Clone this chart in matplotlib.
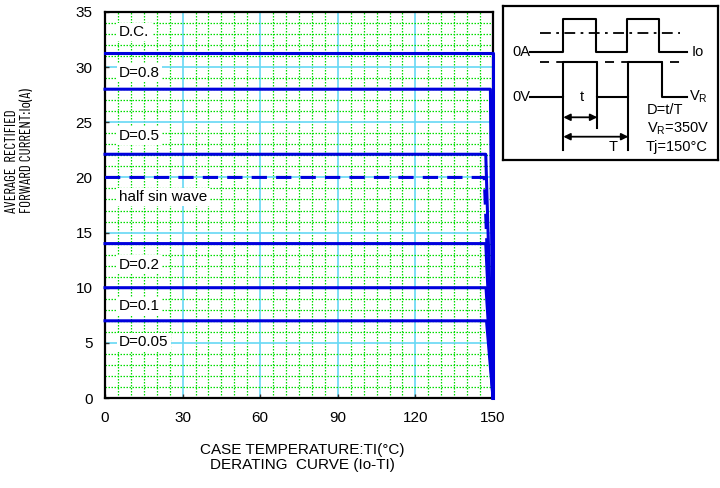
import matplotlib
matplotlib.use("Agg")
import matplotlib.pyplot as plt
from matplotlib import font_manager
from matplotlib.font_manager import FontProperties
from matplotlib.ticker import MultipleLocator

plt.rcParams['font.family'] = ['Liberation Sans', 'DejaVu Sans']

# ---------------- data ----------------
curve_names = ['D.C.', 'D=0.8', 'D=0.5', 'half sin wave', 'D=0.2', 'D=0.1', 'D=0.05']
curve_current = [31.3, 28.0, 22.1, 20.0, 14.0, 10.0, 7.0]
curve_knee_temp = [150.0, 149.0, 147.2, 146.6, 147.2, 147.3, 147.5]
curve_end_temp = 150.0
curve_dashed = [False, False, False, True, False, False, False]
label_y = [33.2, 29.5, 23.8, 18.2, 12.1, 8.3, 5.1]
x_ticks = [0, 30, 60, 90, 120, 150]
y_ticks = [0, 5, 10, 15, 20, 25, 30, 35]

io_x = [27, 60.3, 60.3, 93, 93, 123.7, 123.7, 156.3, 156.3, 183.7]
io_y = [46.3, 46.3, 13, 13, 46.3, 46.3, 13, 13, 46.3, 46.3]
vr_x = [27, 60.3, 60.3, 94.3, 94.3, 125.3, 125.3, 159.3, 159.3, 183.7]
vr_y = [91, 91, 56.3, 56.3, 91, 91, 56.3, 56.3, 91, 91]

BLUE = '#0000DD'

# pick a narrow sans family for the y label (reference uses tall narrow letters)
pref = ['Barlow Condensed', 'Roboto Condensed', 'Asap Condensed', 'Archivo Narrow']
found = None
for p in pref:
    for f in font_manager.fontManager.ttflist:
        if f.name == p and f.style == 'normal' and f.weight in (400, 'normal', 'regular'):
            found = f.fname
            break
    if found:
        break

fig = plt.figure(figsize=(7.2, 4.88), dpi=100)
ax = fig.add_axes([105/720, 1-398/488, (493-105)/720, (398-12)/488])
ax.set_xlim(0, 150)
ax.set_ylim(0, 35)
ax.set_xticks(x_ticks)
ax.set_yticks(y_ticks)
ax.xaxis.set_minor_locator(MultipleLocator(5))
ax.yaxis.set_minor_locator(MultipleLocator(1))
ax.grid(which='minor', color='#00DD00', linestyle=(0, (1.2, 1.2)), linewidth=0.9, zorder=0)
ax.grid(which='major', color='#66D8F5', linestyle='-', linewidth=1.2, zorder=0.5)
ax.set_axisbelow(True)
ax.tick_params(which='major', direction='in', length=3, width=1, pad=9, labelsize=11, color='#333333')
ax.tick_params(which='minor', length=0)
for s in ax.spines.values():
    s.set_linewidth(1.6)
    s.set_color('black')

for name, cur, knee, dashed in zip(curve_names, curve_current, curve_knee_temp, curve_dashed):
    ax.plot([0, knee, curve_end_temp], [cur, cur, 0], color=BLUE, lw=2.2,
            linestyle=(0, (5, 3)) if dashed else '-', zorder=3, clip_on=False)

for name, ly in zip(curve_names, label_y):
    ax.text(5.5, ly, name, fontsize=11, va='center', ha='left', zorder=2,
            bbox=dict(facecolor='white', edgecolor='none', pad=1.5))

fig.text(302/720, 1-450/488, 'CASE TEMPERATURE:TI(°C)', ha='center', va='center', fontsize=11)
fig.text(302/720, 1-465/488, 'DERATING  CURVE (Io-TI)', ha='center', va='center', fontsize=11)

if found:
    ylab_fp = FontProperties(fname=found, size=10)
else:
    ylab_fp = FontProperties(family=['Liberation Sans'], size=8)
t1 = fig.text(12/720, 1-213/488, 'AVERAGE  RECTIFIED', rotation=90, ha='center', va='bottom',
              fontproperties=ylab_fp)
t2 = fig.text(27/720, 1-213/488, 'FORWARD CURRENT:Io(A)', rotation=90, ha='center', va='bottom',
              fontproperties=ylab_fp)
# scale font so the longer line spans ~125 px like the reference
renderer = fig.canvas.get_renderer()
h = t2.get_window_extent(renderer).height
if h > 0:
    new_size = ylab_fp.get_size() * 125.0 / h
    for t in (t1, t2):
        t.set_fontsize(new_size)

ins = fig.add_axes([503/720, 1-160/488, 215/720, 154/488])
ins.set_xlim(0, 215)
ins.set_ylim(154, 0)
ins.set_xticks([])
ins.set_yticks([])
for s in ins.spines.values():
    s.set_linewidth(1.6)
ins.plot(io_x, io_y, color='black', lw=1.5)
ins.plot(vr_x, vr_y, color='black', lw=1.5)
ins.plot([37, 177], [27.3, 27.3], color='black', lw=1.3, linestyle=(0, (6, 3, 1.5, 3)))
ins.plot([37, 177], [55.7, 55.7], color='black', lw=1.3, linestyle=(0, (5, 4)))
ins.plot([vr_x[1], vr_x[1]], [91, 144], color='black', lw=1.5)
ins.plot([vr_x[3], vr_x[3]], [91, 122], color='black', lw=1.5)
ins.plot([vr_x[5], vr_x[5]], [91, 144], color='black', lw=1.5)
ins.annotate('', xy=(vr_x[1], 111.3), xytext=(vr_x[3], 111.3),
             arrowprops=dict(arrowstyle='<|-|>', color='black', lw=1.3, mutation_scale=10, shrinkA=0, shrinkB=0))
ins.annotate('', xy=(vr_x[1], 130.7), xytext=(vr_x[5], 130.7),
             arrowprops=dict(arrowstyle='<|-|>', color='black', lw=1.3, mutation_scale=10, shrinkA=0, shrinkB=0))
fs = 10.5
ins.text(27, 46.3, '0A', ha='right', va='center', fontsize=fs)
ins.text(188.7, 46.3, 'Io', ha='left', va='center', fontsize=fs)
ins.text(27, 90.7, '0V', ha='right', va='center', fontsize=fs)
ins.text(186, 91, 'V$_\\mathregular{R}$', ha='left', va='center', fontsize=fs)
ins.text(78.7, 91, 't', ha='center', va='center', fontsize=fs)
ins.text(110.3, 141, 'T', ha='center', va='center', fontsize=fs)
ins.text(143.7, 104, 'D=t/T', ha='left', va='center', fontsize=fs)
ins.text(143.7, 122.3, 'V$_\\mathregular{R}$=350V', ha='left', va='center', fontsize=fs)
ins.text(142.7, 141, 'Tj=150°C', ha='left', va='center', fontsize=fs)

fig.savefig('out.png', dpi=100)
